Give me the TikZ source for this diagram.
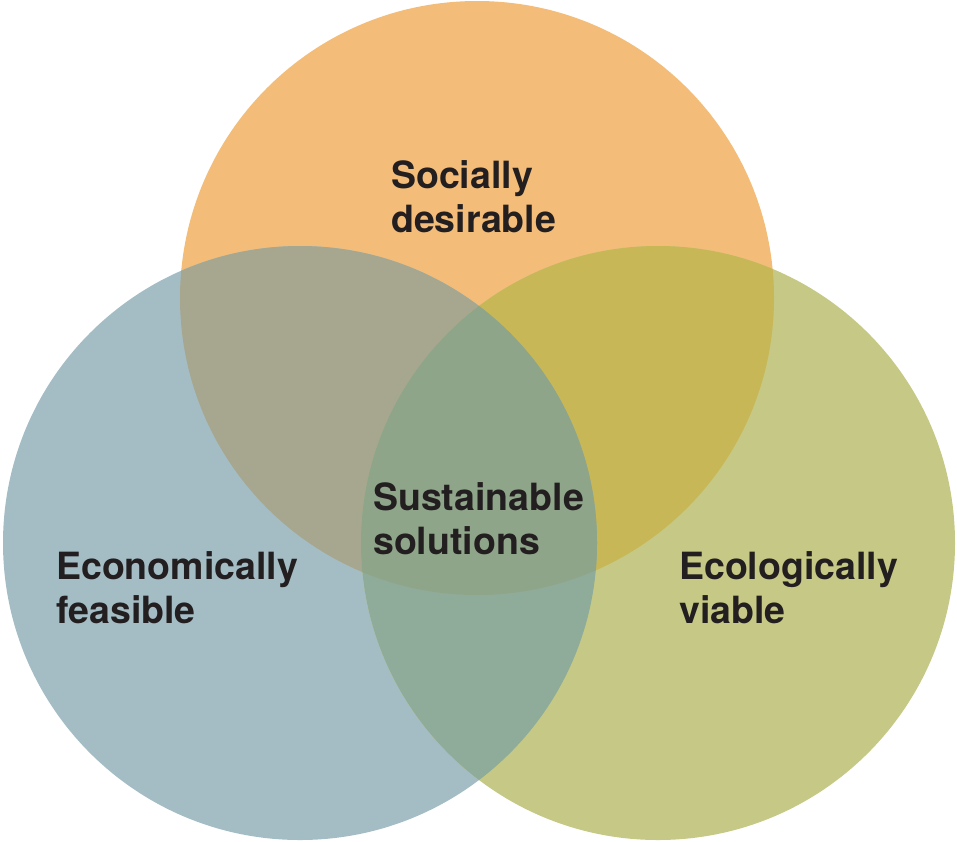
\documentclass[tikz,border=0pt]{standalone}
\usepackage{fontspec}
\setmainfont{TeX Gyre Heros}
\usepackage{tikz}
\usetikzlibrary{positioning}

\definecolor{socialC}{HTML}{F3BD79}
\definecolor{econC}{HTML}{A4BDC5}
\definecolor{ecolC}{HTML}{C6C985}
\definecolor{socEcon}{HTML}{A7A78F}
\definecolor{socEcol}{HTML}{C8B757}
\definecolor{econEcol}{HTML}{8FAB99}
\definecolor{allC}{HTML}{8FA58A}
\definecolor{labelC}{HTML}{231F20}

\begin{document}
\begin{tikzpicture}[
    x=1pt, y=-1pt,
    lbl/.style={anchor=west, align=left, inner sep=0pt, text=labelC, font=\fontsize{37.5}{44}\selectfont\bfseries}
]
\useasboundingbox (0,0) rectangle (957,841);
\coordinate (soc) at (477,298);
\coordinate (econ) at (300,543);
\coordinate (ecol) at (658,543);
% the three circles
\fill[socialC] (soc) circle (297pt);
\fill[econC] (econ) circle (297pt);
\fill[ecolC] (ecol) circle (297pt);
% pairwise overlaps
\begin{scope}
  \clip (soc) circle (297pt);
  \fill[socEcon] (econ) circle (297pt);
  \fill[socEcol] (ecol) circle (297pt);
\end{scope}
\begin{scope}
  \clip (econ) circle (297pt);
  \fill[econEcol] (ecol) circle (297pt);
  \clip (ecol) circle (297pt);
  \fill[allC] (soc) circle (297pt);
\end{scope}
% labels
\node (socL) [lbl] at (391,197) {Socially\\desirable};
\node (econL) [lbl] at (56,588) {Economically\\feasible};
\node (ecolL) [lbl] at (679,588) {Ecologically\\viable};
\node (susL) [lbl] at (373,519) {Sustainable\\solutions};
\end{tikzpicture}
\end{document}
